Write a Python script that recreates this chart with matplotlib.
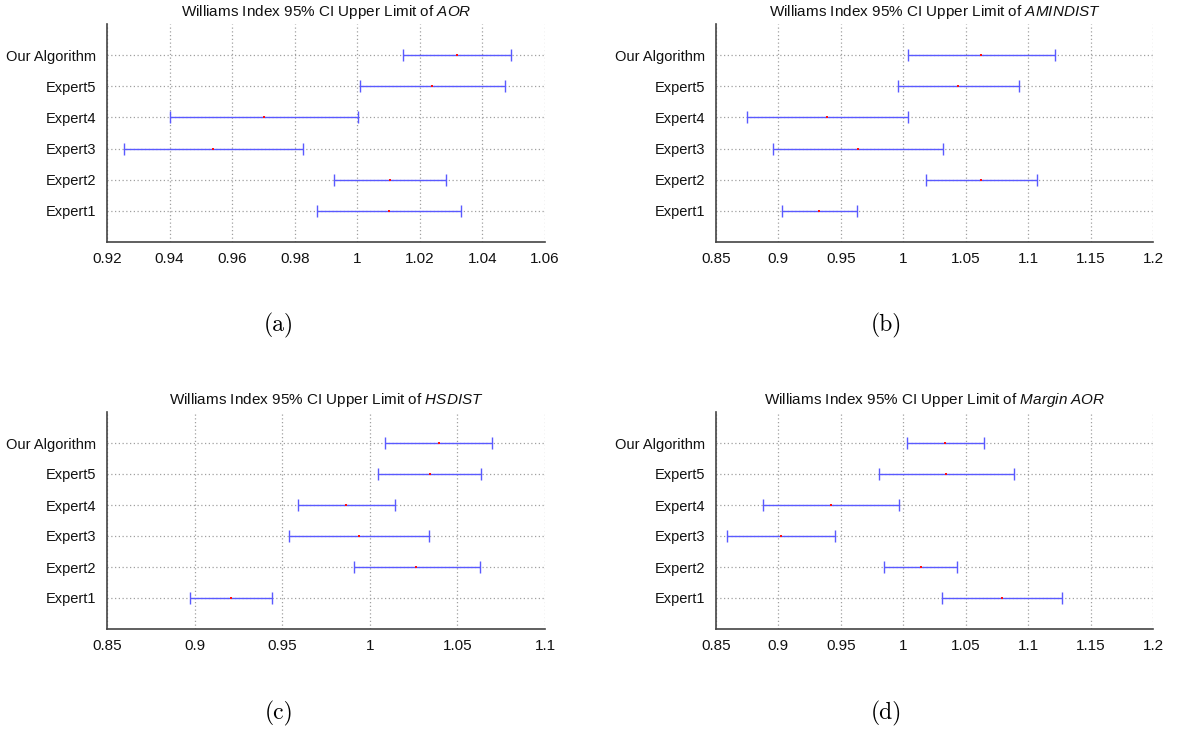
import numpy as np
import matplotlib
matplotlib.use("Agg")
import matplotlib.pyplot as plt

plt.rcParams['font.family'] = ['Liberation Sans', 'DejaVu Sans']
plt.rcParams['mathtext.fontset'] = 'custom'
plt.rcParams['mathtext.rm'] = 'Liberation Sans'
plt.rcParams['mathtext.it'] = 'Liberation Sans:italic'

labels = ['Expert1', 'Expert2', 'Expert3', 'Expert4', 'Expert5', 'Our Algorithm']

# (a) AOR
aor_low = [0.9871, 0.9927, 0.9253, 0.9400, 1.0008, 1.0145]
aor_mid = [1.0101, 1.0105, 0.9539, 0.9701, 1.0240, 1.0319]
aor_high = [1.0333, 1.0284, 0.9827, 1.0002, 1.0471, 1.0492]

# (b) AMINDIST
amin_low = [0.9029, 1.0178, 0.8957, 0.8750, 0.9958, 1.0039]
amin_mid = [0.9327, 1.0626, 0.9636, 0.9393, 1.0439, 1.0626]
amin_high = [0.9627, 1.1068, 1.0322, 1.0039, 1.0923, 1.1212]

# (c) HSDIST
hs_low = [0.8971, 0.9909, 0.9537, 0.9591, 1.0047, 1.0088]
hs_mid = [0.9208, 1.0266, 0.9939, 0.9866, 1.0342, 1.0393]
hs_high = [0.9442, 1.0628, 1.0340, 1.0142, 1.0634, 1.0699]

# (d) Margin AOR
mar_low = [1.0313, 0.9844, 0.8590, 0.8876, 0.9805, 1.0030]
mar_mid = [1.0794, 1.0139, 0.9020, 0.9423, 1.0343, 1.0337]
mar_high = [1.1275, 1.0427, 0.9450, 0.9967, 1.0887, 1.0650]

W, H = 1179, 737
fig = plt.figure(figsize=(W / 100, H / 100), dpi=100)


def panel(px_left, px_top, px_right, px_bottom, low, mid, high, name, xticks, sub, sub_x, sub_y):
    ax = fig.add_axes([px_left / W, 1 - px_bottom / H,
                       (px_right - px_left) / W, (px_bottom - px_top) / H])
    low = np.array(low)
    mid = np.array(mid)
    high = np.array(high)
    y = np.arange(1, len(labels) + 1)
    ax.errorbar(mid, y, xerr=[mid - low, high - mid], fmt='none',
                ecolor='#5a5aff', elinewidth=1.0, capsize=4, capthick=1.0, zorder=3)
    ax.plot(mid, y, 's', color='#ff1010', markersize=2.0, markeredgewidth=0, zorder=4)
    ax.set_ylim(0, 7)
    ax.set_yticks(y)
    ax.set_yticklabels(labels)
    ax.set_xlim(xticks[0], xticks[-1])
    ax.set_xticks(xticks)
    ax.set_xticklabels(['%g' % round(t, 2) for t in xticks])
    ax.grid(True, linestyle=(0, (1, 2)), color='#a0a0a0', linewidth=0.9)
    ax.set_axisbelow(True)
    for s in ['top', 'right']:
        ax.spines[s].set_visible(False)
    for s in ['left', 'bottom']:
        ax.spines[s].set_color('#444444')
        ax.spines[s].set_linewidth(1.2)
    ax.tick_params(length=0, labelsize=10.5, colors='#111111')
    ax.tick_params(axis='x', pad=7, labelsize=11)
    ax.tick_params(axis='y', pad=8)
    ax.set_title('Williams Index 95% CI Upper Limit of $\\mathit{' + name + '}$',
                 fontsize=11, pad=6, color='#111111')
    fig.text(sub_x / W, 1 - sub_y / H, sub, fontfamily='cmr10', fontsize=17,
             ha='center', va='center')
    return ax


panel(107, 24, 545, 242, aor_low, aor_mid, aor_high, 'AOR',
      np.arange(0.92, 1.0601, 0.02), '(a)', 279, 325)
panel(716, 24, 1153, 242, amin_low, amin_mid, amin_high, 'AMINDIST',
      np.arange(0.85, 1.2001, 0.05), '(b)', 886, 325)
panel(107, 412, 545, 629, hs_low, hs_mid, hs_high, 'HSDIST',
      np.arange(0.85, 1.1001, 0.05), '(c)', 279, 713)
panel(716, 412, 1153, 629, mar_low, mar_mid, mar_high, 'Margin\\ AOR',
      np.arange(0.85, 1.2001, 0.05), '(d)', 886, 713)

fig.savefig('out.png', dpi=100)
